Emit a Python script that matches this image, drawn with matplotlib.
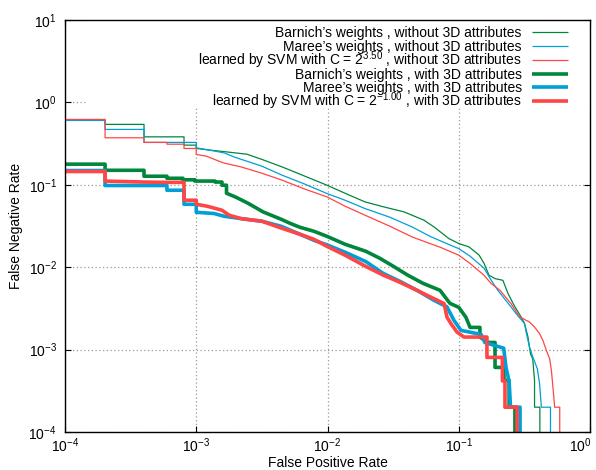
import matplotlib
matplotlib.use("Agg")
import matplotlib.pyplot as plt
from matplotlib.patches import Rectangle
from matplotlib.ticker import NullLocator
from matplotlib.transforms import ScaledTranslation

plt.rcParams['font.family'] = ['Liberation Sans', 'DejaVu Sans']
plt.rcParams['mathtext.fontset'] = 'custom'
plt.rcParams['mathtext.rm'] = 'Liberation Sans'
plt.rcParams['mathtext.it'] = 'Liberation Sans:italic'
plt.rcParams['mathtext.bf'] = 'Liberation Sans:bold'

# DET curves, vertices: false positive rate (x), false negative rate (y)
# --- without 3D attributes (thin lines) ---
barnich_fpr = [1e-4, 2.02e-4, 2.02e-4, 4.0e-4, 4.0e-4, 8.07e-4, 8.07e-4, 1.0e-3, 1.0e-3,
               1.29e-3, 1.69e-3, 2.44e-3, 3.17e-3, 4.5e-3, 6.74e-3, 9.9e-3, 0.0136, 0.0193,
               0.0269, 0.0383, 0.0543, 0.0648, 0.0843, 0.100, 0.120, 0.143, 0.156, 0.170,
               0.189, 0.217, 0.237, 0.264, 0.298, 0.317, 0.337, 0.352, 0.366, 0.378,
               0.378, 0.415, 0.415]
barnich_fnr = [0.610, 0.610, 0.541, 0.541, 0.382, 0.382, 0.303, 0.303, 0.276,
               0.263, 0.251, 0.235, 0.203, 0.165, 0.127, 0.0989, 0.0790, 0.0620,
               0.0539, 0.0469, 0.0372, 0.0308, 0.0222, 0.0194, 0.0176, 0.0140, 0.0111, 0.00798,
               0.00727, 0.00693, 0.00482, 0.00344, 0.00250, 0.00208, 0.00142, 0.000889, 0.000773, 0.000423,
               0.0002, 0.0002, 1e-5]

maree_fpr = [1e-4, 2.02e-4, 2.02e-4, 4.0e-4, 4.0e-4, 1.0e-3, 1.0e-3, 1.19e-3, 1.63e-3,
             1.97e-3, 3.17e-3, 4.5e-3, 6.74e-3, 9.9e-3, 0.0136, 0.0193, 0.0299, 0.0441,
             0.0604, 0.0800, 0.100, 0.122, 0.156, 0.173, 0.198, 0.250, 0.273, 0.317,
             0.326, 0.346, 0.367, 0.397, 0.413, 0.426, 0.500, 0.500]
maree_fnr = [0.604, 0.604, 0.470, 0.470, 0.327, 0.327, 0.281, 0.268, 0.244,
             0.216, 0.168, 0.131, 0.1017, 0.0784, 0.0650, 0.0515, 0.0404, 0.0308,
             0.0237, 0.0195, 0.0168, 0.0136, 0.00970, 0.00733, 0.00527, 0.00330, 0.00274, 0.00207,
             0.00164, 0.00107, 0.000811, 0.000585, 0.000383, 0.0002, 0.0002, 1e-5]

svm_fpr = [1e-4, 2.02e-4, 2.02e-4, 4.0e-4, 4.0e-4, 5.98e-4, 5.98e-4, 8.07e-4, 8.07e-4,
           1.0e-3, 1.0e-3, 1.19e-3, 1.60e-3, 2.19e-3, 3.17e-3, 4.5e-3, 6.74e-3, 9.9e-3,
           0.0136, 0.0193, 0.0299, 0.0441, 0.0543, 0.0720, 0.100, 0.122, 0.156, 0.176,
           0.206, 0.250, 0.290, 0.346, 0.378, 0.413, 0.438, 0.465, 0.493, 0.508,
           0.522, 0.538, 0.588, 0.588]
svm_fnr = [0.621, 0.621, 0.372, 0.372, 0.327, 0.327, 0.311, 0.311, 0.276,
           0.276, 0.233, 0.223, 0.185, 0.165, 0.138, 0.114, 0.0885, 0.0714,
           0.0550, 0.0428, 0.0314, 0.0233, 0.0206, 0.0175, 0.0140, 0.0111, 0.00798, 0.00637,
           0.00524, 0.00362, 0.00250, 0.00216, 0.00188, 0.00156, 0.00129, 0.000977, 0.000773, 0.000557,
           0.000349, 0.0002, 0.0002, 1e-5]

# --- with 3D attributes (thick lines) ---
barnich3d_fpr = [1e-4, 2.02e-4, 2.02e-4, 4.0e-4, 4.0e-4, 5.98e-4, 5.98e-4, 7.92e-4, 7.92e-4,
                 9.78e-4, 9.78e-4, 1.39e-3, 1.39e-3, 1.57e-3, 1.57e-3, 1.70e-3, 1.70e-3, 2.01e-3,
                 2.48e-3, 3.23e-3, 4.43e-3, 5.18e-3, 6.17e-3, 7.88e-3, 9.9e-3, 0.0136, 0.0196,
                 0.0251, 0.0316, 0.0410, 0.0534, 0.0720, 0.0857, 0.100, 0.1135, 0.122,
                 0.145, 0.145, 0.170, 0.189, 0.189, 0.221, 0.221, 0.242, 0.242, 0.268, 0.268]
barnich3d_fnr = [0.178, 0.178, 0.150, 0.150, 0.127, 0.127, 0.120, 0.120, 0.115,
                 0.115, 0.111, 0.111, 0.108, 0.108, 0.0989, 0.0989, 0.0790, 0.0706,
                 0.0597, 0.0469, 0.0382, 0.0341, 0.0305, 0.0273, 0.0237, 0.0190, 0.0156,
                 0.0128, 0.0103, 0.00798, 0.00637, 0.00524, 0.00364, 0.00326, 0.00246, 0.00186,
                 0.00186, 0.00141, 0.00122, 0.00122, 0.000608, 0.000608, 0.000423, 0.000423, 0.0002, 0.0002, 1e-5]

maree3d_fpr = [1e-4, 2.02e-4, 2.02e-4, 5.98e-4, 5.98e-4, 8.07e-4, 8.07e-4, 1.0e-3, 1.0e-3,
               1.37e-3, 1.63e-3, 2.19e-3, 3.17e-3, 4.43e-3, 6.17e-3, 7.88e-3, 9.9e-3, 0.0136,
               0.0196, 0.0265, 0.0356, 0.0481, 0.0648, 0.0813, 0.092, 0.104, 0.148,
               0.158, 0.220, 0.229, 0.242, 0.248, 0.293, 0.293]
maree3d_fnr = [0.149, 0.149, 0.0980, 0.0980, 0.0859, 0.0859, 0.0580, 0.0580, 0.0464,
               0.0448, 0.0415, 0.0389, 0.0361, 0.0314, 0.0251, 0.0212, 0.0187, 0.0152,
               0.0117, 0.00843, 0.00674, 0.00524, 0.00396, 0.00330, 0.00226, 0.00171, 0.00153,
               0.00122, 0.00104, 0.000608, 0.000411, 0.0002, 0.0002, 1e-5]

svm3d_fpr = [1e-4, 2.02e-4, 2.02e-4, 4.0e-4, 5.98e-4, 8.07e-4, 8.07e-4, 1.0e-3, 1.0e-3,
             1.21e-3, 1.57e-3, 1.78e-3, 2.19e-3, 3.17e-3, 4.43e-3, 6.17e-3, 7.88e-3, 9.9e-3,
             0.0136, 0.0196, 0.0265, 0.0356, 0.0481, 0.0573, 0.0773, 0.0813, 0.0873,
             0.0970, 0.1096, 0.164, 0.164, 0.215, 0.215, 0.225, 0.225, 0.278, 0.278]
svm3d_fnr = [0.145, 0.145, 0.111, 0.108, 0.107, 0.107, 0.0650, 0.0650, 0.0580,
             0.0550, 0.0491, 0.0428, 0.0389, 0.0361, 0.0299, 0.0251, 0.0218, 0.0179,
             0.0140, 0.0102, 0.00804, 0.00656, 0.00524, 0.00456, 0.00362, 0.00248, 0.00206,
             0.00163, 0.00142, 0.00142, 0.000804, 0.000804, 0.000417, 0.000417, 0.0002, 0.0002, 1e-5]

labels = [
    "Barnich\u2019s weights , without 3D attributes",
    "Maree\u2019s weights , without 3D attributes",
    "learned by SVM with C = 2$^{3.50}$ , without 3D attributes",
    "Barnich\u2019s weights , with 3D attributes",
    "Maree\u2019s weights , with 3D attributes",
    "learned by SVM with C = 2$^{-1.00}$ , with 3D attributes",
]

x_ticks = [1e-4, 1e-3, 1e-2, 1e-1, 1]
y_ticks = [1e-4, 1e-3, 1e-2, 1e-1, 1, 10]

green = '#00873c'
blue = '#00a0d6'
red = '#ff4545'

series = [
    (barnich_fpr, barnich_fnr, green, 0.9),
    (maree_fpr, maree_fnr, blue, 0.9),
    (svm_fpr, svm_fnr, red, 0.9),
    (barnich3d_fpr, barnich3d_fnr, green, 2.6),
    (maree3d_fpr, maree3d_fnr, blue, 2.6),
    (svm3d_fpr, svm3d_fnr, red, 2.6),
]

fig = plt.figure(figsize=(5.96, 4.70), dpi=100)
ax = fig.add_axes([65 / 596, 1 - 432 / 470, 525 / 596, 412 / 470])

for fpr, fnr, col, lw in series:
    ax.plot(fpr, fnr, color=col, lw=lw, zorder=2)

ax.set_xscale('log')
ax.set_yscale('log')
ax.set_xlim(1e-4, 1)
ax.set_ylim(1e-4, 10)
ax.set_xticks(x_ticks)
ax.set_yticks(y_ticks)
ax.xaxis.set_minor_locator(NullLocator())
ax.yaxis.set_minor_locator(NullLocator())

ax.set_axisbelow(True)
ax.grid(True, which='major', color='#999999', linestyle=(0, (1, 2)), lw=0.9)
ax.tick_params(which='major', direction='in', length=4, width=0.8,
               top=True, right=True, labelsize=10)
ax.tick_params(axis='x', pad=3)
ax.tick_params(axis='y', pad=6)
for sp in ax.spines.values():
    sp.set_linewidth(1.0)

# opaque key area hides the grid behind it (gnuplot style)
ax.add_patch(Rectangle((0.042, 0.786), 0.958, 0.214, transform=ax.transAxes,
                       facecolor='white', edgecolor='none', zorder=1))

# key: right-aligned text followed by a line sample
row_px = [32, 46, 60, 73.5, 87, 101]
for (fpr, fnr, col, lw), lab, py in zip(series, labels, row_px):
    ya = (432 - py) / 412
    ax.plot([0.889, 0.9575], [ya, ya], transform=ax.transAxes, color=col,
            lw=lw, solid_capstyle='butt', zorder=3, clip_on=False)
    ax.text(0.870, ya - 5 / 412, lab, transform=ax.transAxes, ha='right',
            va='baseline', fontsize=10, zorder=3)

ax.set_xlabel('False Positive Rate', fontsize=10, labelpad=1)
ax.set_ylabel('False Negative Rate', fontsize=10, labelpad=4)

# keep the last x tick label inside the canvas
fig.canvas.draw()
last = ax.xaxis.get_major_ticks()[len(x_ticks) - 1].label1
last.set_transform(last.get_transform() + ScaledTranslation(-7 / 72, 0, fig.dpi_scale_trans))

fig.savefig('out.png', dpi=100)
